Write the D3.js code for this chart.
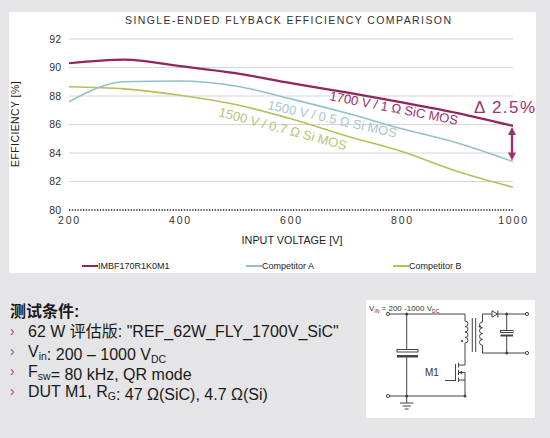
<!DOCTYPE html>
<html lang="zh">
<head>
<meta charset="UTF-8">
<title>Single-ended flyback efficiency comparison</title>
<script src="https://d3js.org/d3.v7.min.js"></script>
<style>
  body { margin: 0; background: #e5e5e7; }
  svg { display: block; font-family: "Liberation Sans", Arial, "Noto Sans CJK SC", sans-serif; }
</style>
</head>
<body>
<svg id="chart" width="550" height="438"></svg>
<script>
// ---- data ----
const voltages = [200, 300, 400, 500, 600, 700, 800, 900, 1000];
const imbf     = [90.3, 90.55, 90.1, 89.6, 88.9, 88.25, 87.55, 86.8, 85.9];
const compA    = [87.6, 89.0, 89.05, 88.7, 87.8, 86.8, 85.7, 84.7, 83.4];
const compB    = [88.65, 88.5, 88.05, 87.4, 86.4, 85.2, 84.1, 82.7, 81.6];
const xTicks = [200, 400, 600, 800, 1000];
const yTicks = [80, 82, 84, 86, 88, 90, 92];
const seriesNames = ["IMBF170R1K0M1", "Competitor A", "Competitor B"];
const seriesColors = ["#93245f", "#93c2c6", "#b6bf5a"];

const svg = d3.select("#chart");

// white chart panel
svg.append("rect").attr("x", 9).attr("y", 12).attr("width", 527).attr("height", 261).attr("fill", "#fff");

const x = d3.scaleLinear().domain([200, 1000]).range([69, 513]);
const y = d3.scaleLinear().domain([80, 92]).range([210, 39]);

// title
svg.append("text")
  .attr("x", 125).attr("y", 24)
  .attr("textLength", 326).attr("lengthAdjust", "spacing")
  .attr("font-size", 10.5).attr("fill", "#333")
  .text("SINGLE-ENDED FLYBACK EFFICIENCY COMPARISON");

// grid
svg.append("g").selectAll("line").data(yTicks.filter(d => d > 80)).join("line")
  .attr("x1", x(200)).attr("x2", x(1000))
  .attr("y1", d => y(d)).attr("y2", d => y(d))
  .attr("stroke", "#d6d6d6").attr("stroke-width", 1);

svg.append("line")
  .attr("x1", x(200)).attr("x2", x(1000)).attr("y1", y(80)).attr("y2", y(80))
  .attr("stroke", "#222").attr("stroke-width", 1.6).attr("stroke-dasharray", "1.3,1.5");

// axes (text only, like the original)
const yAxis = svg.append("g").attr("transform", "translate(61,0)")
  .call(d3.axisLeft(y).tickValues(yTicks).tickSize(0).tickPadding(0))
  .attr("font-family", null).attr("font-size", null);
yAxis.select(".domain").remove();
yAxis.selectAll("text").attr("font-size", 10.5).attr("fill", "#333");

const xAxis = svg.append("g").attr("transform", "translate(0,217)")
  .call(d3.axisBottom(x).tickValues(xTicks).tickFormat(d3.format("d")).tickSize(0).tickPadding(0))
  .attr("font-family", null).attr("font-size", null);
xAxis.select(".domain").remove();
xAxis.selectAll("text").attr("font-size", 10.5).attr("fill", "#333").attr("letter-spacing", 1.8);

svg.append("text").attr("x", 292).attr("y", 244).attr("text-anchor", "middle")
  .attr("font-size", 10.8).attr("fill", "#222").text("INPUT VOLTAGE [V]");

svg.append("text").attr("transform", "translate(19,124) rotate(-90)").attr("text-anchor", "middle")
  .attr("font-size", 10.5).attr("fill", "#222").attr("letter-spacing", 0.4).text("EFFICIENCY [%]");

// lines
const line = d3.line().x((d, i) => x(voltages[i])).y(d => y(d)).curve(d3.curveMonotoneX);
const series = [imbf, compA, compB];
const widths = [2.2, 1.6, 1.6];
svg.append("g").selectAll("path").data(series.slice().reverse()).join("path")
  .attr("d", line)
  .attr("fill", "none")
  .attr("stroke", (d, i) => seriesColors[2 - i])
  .attr("stroke-width", (d, i) => widths[2 - i]);

// in-chart labels
const labels = [
  { t: "1700 V / 1 \u03A9 SiC MOS", x: 329, y: 100, r: 11, c: "#9a3170" },
  { t: "1500 V / 0.5 \u03A9 Si MOS", x: 267, y: 109, r: 12.5, c: "#a9c7cb" },
  { t: "1500 V / 0.7 \u03A9 Si MOS", x: 218, y: 116, r: 15, c: "#bcc176" }
];
svg.append("g").selectAll("text").data(labels).join("text")
  .attr("transform", d => `translate(${d.x},${d.y}) rotate(${d.r})`)
  .attr("font-size", 13).attr("fill", d => d.c).text(d => d.t);

// delta arrow
const ax = x(1000) - 1;
const arrowColor = "#a3306e";
svg.append("line").attr("x1", ax).attr("x2", ax)
  .attr("y1", y(imbf[8]) + 6).attr("y2", y(compA[8]) - 6)
  .attr("stroke", arrowColor).attr("stroke-width", 2.4);
svg.append("path")
  .attr("d", `M${ax},${y(imbf[8]) + 1} l-4,8 h8 z M${ax},${y(compA[8]) - 1} l-4,-8 h8 z`)
  .attr("fill", arrowColor);
svg.append("text").attr("x", 474).attr("y", 112.5)
  .attr("textLength", 61).attr("lengthAdjust", "spacing")
  .attr("font-size", 17).attr("fill", arrowColor).text("\u0394 2.5%");

// legend
const legX = [82, 246, 393];
const leg = svg.append("g").selectAll("g").data(seriesNames).join("g")
  .attr("transform", (d, i) => `translate(${legX[i]},266)`);
leg.append("line").attr("x1", 0).attr("x2", 16).attr("stroke", (d, i) => seriesColors[i]).attr("stroke-width", 2);
leg.append("text").attr("x", 16).attr("y", 3.2).attr("font-size", 9).attr("fill", "#222").text(d => d);

// ---- test conditions ----
svg.append("text").attr("x", 10).attr("y", 316.5).attr("font-size", 16).attr("font-weight", "bold")
  .attr("fill", "#1a1a1a").text("测试条件:");

const rowsY = [337, 357, 377, 397];
svg.append("g").selectAll("text").data(rowsY).join("text")
  .attr("x", 10).attr("y", d => d - 1).attr("font-size", 14).attr("fill", "#b5416f").text("\u203A");

function row(yy, parts) {
  const t = svg.append("text").attr("x", 28).attr("y", yy).attr("font-size", 16).attr("fill", "#1a1a1a");
  parts.forEach(p => {
    if (typeof p === "string") t.append("tspan").text(p);
    else {
      t.append("tspan").attr("font-size", 10.5).attr("dy", 3).text(p.sub);
      t.append("tspan").attr("dy", -3).text("");
    }
  });
}
row(rowsY[0], ["62 W 评估版: \"REF_62W_FLY_1700V_SiC\""]);
row(rowsY[1], ["V", { sub: "in" }, ": 200 \u2013 1000 V", { sub: "DC" }]);
row(rowsY[2], ["F", { sub: "sw" }, "= 80 kHz, QR mode"]);
row(rowsY[3], ["DUT M1, R", { sub: "G" }, ": 47 \u03A9(SiC), 4.7 \u03A9(Si)"]);

// ---- circuit sketch ----
const c = svg.append("g");
c.append("rect").attr("x", 366).attr("y", 300).attr("width", 169).attr("height", 118).attr("fill", "#fff");
const ink = "#444";
const wire = d => c.append("path").attr("d", d).attr("fill", "none").attr("stroke", ink).attr("stroke-width", 1);

const vt = c.append("text").attr("x", 369).attr("y", 311).attr("font-size", 8).attr("fill", "#333");
vt.append("tspan").text("V");
vt.append("tspan").attr("font-size", 5).attr("dy", 1.5).text("IN");
vt.append("tspan").attr("dy", -1.5).text(" = 200 -1000 V");
vt.append("tspan").attr("font-size", 5).attr("dy", 1.5).text("DC");

// primary side
wire("M389,314 H465 V321");
wire("M389,396 H465");
wire("M406.7,314 V349.5 M406.7,357 V396");
c.append("rect").attr("x", 397).attr("y", 349.5).attr("width", 21).attr("height", 2.5).attr("fill", "#fff").attr("stroke", ink);
c.append("rect").attr("x", 397).attr("y", 355).attr("width", 21).attr("height", 2.5).attr("fill", ink);
wire("M406.7,396 V403 M400,403 H413.4 M402.5,406 H410.9 M404.7,409 H408.7");
wire("M465,321 a3,2.75 0 0 1 0,5.5 a3,2.75 0 0 1 0,5.5 a3,2.75 0 0 1 0,5.5 a3,2.75 0 0 1 0,5.5 V365 H459");
wire("M472.3,318 V352 M475.7,318 V352");
wire("M482.5,314 V322 a3,2.9 0 0 0 0,5.8 a3,2.9 0 0 0 0,5.8 a3,2.9 0 0 0 0,5.8 a3,2.9 0 0 0 0,5.8 V353 H527");
c.append("circle").attr("cx", 462).attr("cy", 341).attr("r", 1.1).attr("fill", ink);
c.append("circle").attr("cx", 479.8).attr("cy", 326.5).attr("r", 1.1).attr("fill", ink);

// mosfet
wire("M458.5,363 V367.5 M458.5,370 V375 M458.5,377.5 V382");
wire("M455.5,364 V381 M445,380.5 H455.5");
wire("M458.5,380 H465 V396 M458.5,372.5 H465 V380");
c.append("path").attr("d", "M459,372.5 l3.2,-2 v4 z").attr("fill", ink);
c.append("text").attr("x", 425).attr("y", 376).attr("font-size", 10).attr("fill", "#333").text("M1");

// secondary: diode, output cap
wire("M482.5,314 H527");
c.append("path").attr("d", "M492,310.8 v6.4 l5.5,-3.2 z").attr("fill", "#fff").attr("stroke", ink);
wire("M497.8,310.5 V317.5");
wire("M506.7,314 V330.5 M506.7,336 V353");
c.append("rect").attr("x", 500.5).attr("y", 330.5).attr("width", 12.5).attr("height", 2).attr("fill", "#fff").attr("stroke", ink);
c.append("rect").attr("x", 500.5).attr("y", 334.5).attr("width", 12.5).attr("height", 2).attr("fill", ink);

// nodes and terminals
[[406.7, 314], [406.7, 396], [465, 396], [506.7, 314], [506.7, 353]].forEach(p =>
  c.append("circle").attr("cx", p[0]).attr("cy", p[1]).attr("r", 1.5).attr("fill", ink));
[[388, 314], [388, 396], [527, 314], [527, 353]].forEach(p =>
  c.append("circle").attr("cx", p[0]).attr("cy", p[1]).attr("r", 1.6).attr("fill", "#fff").attr("stroke", ink));
</script>
</body>
</html>
